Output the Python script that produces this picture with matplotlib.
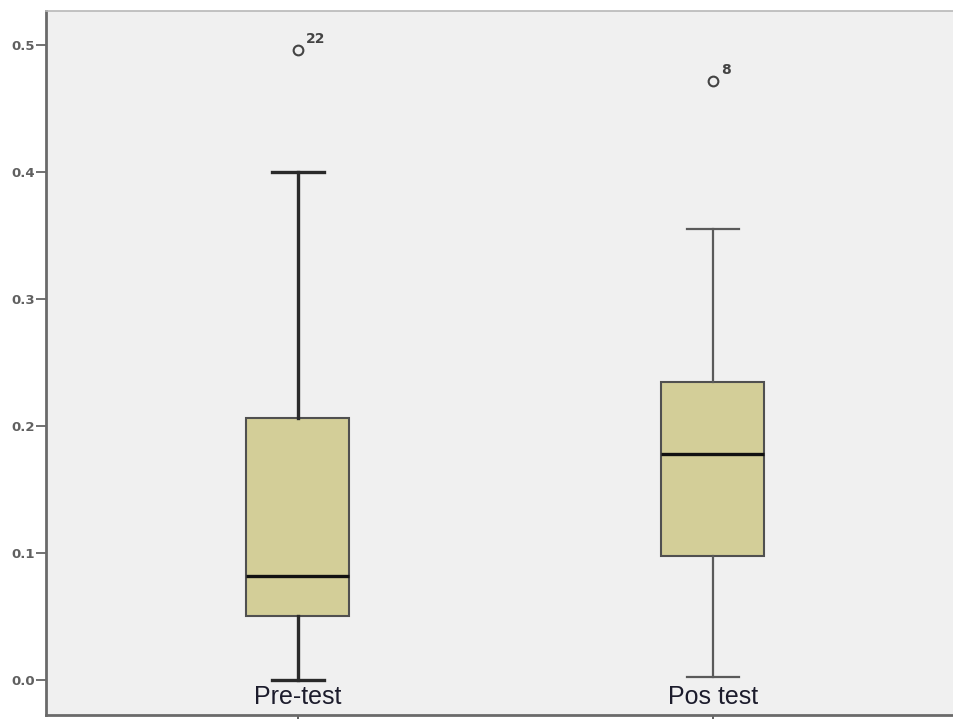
import matplotlib
matplotlib.use("Agg")
from matplotlib import pyplot as plt
from matplotlib import transforms

# box statistics
groups = ["Pre-test", "Pos test"]
whis_low = [0.0, 0.002]
q1 = [0.050, 0.098]
median = [0.082, 0.178]
q3 = [0.206, 0.235]
whis_high = [0.400, 0.355]
outliers = [[0.496], [0.472]]
outlier_ids = [["22"], ["8"]]

fill = "#D3CE98"
bg = "#F0F0F0"

fig = plt.figure(figsize=(9.54, 7.19), dpi=100)
ax = fig.add_axes([46 / 954, 4 / 719, 1 - 46 / 954, 1 - 15 / 719])
ax.set_facecolor(bg)

positions = [1, 2]
stats = []
for i in range(len(groups)):
    stats.append({"label": groups[i], "whislo": whis_low[i], "q1": q1[i],
                  "med": median[i], "q3": q3[i], "whishi": whis_high[i],
                  "fliers": outliers[i]})

bp = ax.bxp(stats, positions=positions, widths=0.248, patch_artist=True,
            capwidths=0.127, manage_ticks=False,
            boxprops=dict(facecolor=fill, edgecolor="#505050", linewidth=1.5),
            medianprops=dict(color="#111111", linewidth=2.4, solid_capstyle="butt"),
            flierprops=dict(marker="o", markerfacecolor="none",
                            markeredgecolor="#444444", markersize=7,
                            markeredgewidth=1.5))

# pre-test whiskers look heavier than pos-test ones
widths = [2.4, 1.6]
colors = ["#2a2a2a", "#5a5a5a"]
for i in range(len(groups)):
    for line in bp["whiskers"][2 * i:2 * i + 2] + bp["caps"][2 * i:2 * i + 2]:
        line.set_linewidth(widths[i])
        line.set_color(colors[i])

# outlier case numbers
for i in range(len(groups)):
    for v, lab in zip(outliers[i], outlier_ids[i]):
        ax.annotate(lab, (positions[i], v), xytext=(6, 5),
                    textcoords="offset points", fontsize=10,
                    color="#444444", fontweight="bold")

ax.set_xlim(0.393, 2.581)
ax.set_ylim(-0.0276, 0.5268)
ax.set_yticks([0.0, 0.1, 0.2, 0.3, 0.4, 0.5])
ax.set_yticklabels(["0.0", "0.1", "0.2", "0.3", "0.4", "0.5"])
ax.set_xticks(positions)
ax.set_xticklabels(["", ""])

# category names sit inside the plot, just above the axis line
trans = transforms.blended_transform_factory(ax.transData, ax.transAxes)
for i in range(len(groups)):
    ax.text(positions[i], 0.008, groups[i], transform=trans, ha="center",
            va="bottom", fontsize=18, family="Liberation Sans",
            color="#1c1c2c")

ax.tick_params(axis="y", direction="out", length=7, width=1.3,
               colors="#666666", labelsize=9.5, pad=1)
ax.tick_params(axis="x", direction="out", length=5, width=1.3,
               colors="#555555")
for lab in ax.get_yticklabels():
    lab.set_fontweight("bold")
    lab.set_color("#606060")

ax.spines["left"].set_color("#6a6a6a")
ax.spines["left"].set_linewidth(2)
ax.spines["bottom"].set_color("#6a6a6a")
ax.spines["bottom"].set_linewidth(2)
ax.spines["top"].set_color("#b8b8b8")
ax.spines["top"].set_linewidth(1.2)
ax.spines["right"].set_visible(False)

fig.savefig("out.png", dpi=100, facecolor="white")
